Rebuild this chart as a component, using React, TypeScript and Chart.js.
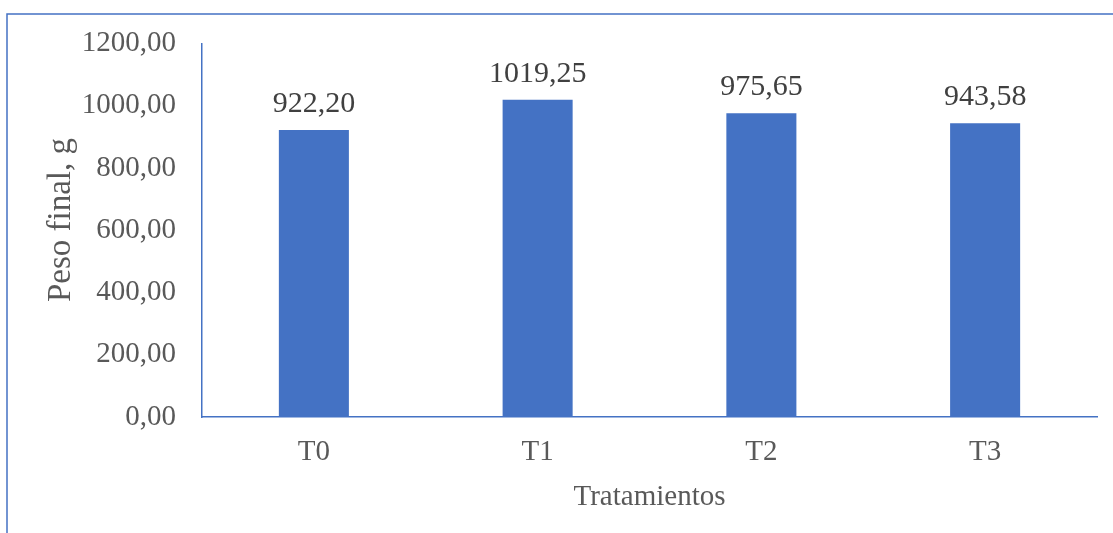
import React, { useEffect, useRef } from "react";
import { Chart, registerables } from "chart.js";

Chart.register(...registerables);

const categories = ["T0", "T1", "T2", "T3"];
const pesoFinal = [922.2, 1019.25, 975.65, 943.58];
const yTicks = [0, 200, 400, 600, 800, 1000, 1200];
const yTitle = "Peso final, g";
const xTitle = "Tratamientos";

const BLUE = "#4472C4";
const SERIF = "'Liberation Serif', 'Times New Roman', serif";

const fmt = (v: number) => v.toFixed(2).replace(".", ",");

// Outer chart frame (left and top edges), value labels above bars, and axis titles
const decorations = {
  id: "decorations",
  beforeDraw(chart: any) {
    const { ctx } = chart;
    ctx.save();
    ctx.strokeStyle = BLUE;
    ctx.lineWidth = 1.5;
    ctx.beginPath();
    ctx.moveTo(7, chart.height + 5);
    ctx.lineTo(7, 14);
    ctx.lineTo(chart.width + 5, 14);
    ctx.stroke();
    ctx.restore();
  },
  afterDatasetsDraw(chart: any) {
    const { ctx, chartArea } = chart;
    const meta = chart.getDatasetMeta(0);
    ctx.save();
    ctx.font = `30px ${SERIF}`;
    ctx.fillStyle = "#404040";
    ctx.textAlign = "center";
    ctx.textBaseline = "alphabetic";
    meta.data.forEach((bar: any, i: number) => {
      ctx.fillText(fmt(pesoFinal[i]), bar.x, bar.y - 18);
    });

    ctx.font = `29px ${SERIF}`;
    ctx.fillStyle = "#595959";
    ctx.fillText(xTitle, (chartArea.left + chartArea.right) / 2, 505);

    ctx.font = `33px ${SERIF}`;
    ctx.translate(70, 220);
    ctx.rotate(-Math.PI / 2);
    ctx.fillText(yTitle, 0, 0);
    ctx.restore();
  },
};

export default function App() {
  const canvasRef = useRef<HTMLCanvasElement | null>(null);

  useEffect(() => {
    if (!canvasRef.current) return;
    const chart = new Chart(canvasRef.current, {
      type: "bar",
      data: {
        labels: categories,
        datasets: [
          {
            data: pesoFinal,
            backgroundColor: BLUE,
            borderWidth: 0,
            barPercentage: 0.313,
            categoryPercentage: 1,
          },
        ],
      },
      options: {
        animation: false,
        responsive: false,
        devicePixelRatio: 1,
        layout: { padding: { left: 0, top: 43, right: 16, bottom: 0 } },
        plugins: {
          legend: { display: false },
          tooltip: { enabled: false },
        },
        scales: {
          x: {
            grid: { display: false, drawTicks: false },
            border: { display: true, color: BLUE, width: 1.5 },
            ticks: {
              font: { family: SERIF, size: 29 },
              color: "#595959",
              padding: 18,
            },
            afterFit(scale: any) {
              scale.height = 116;
            },
          },
          y: {
            min: 0,
            max: 1200,
            afterBuildTicks(scale: any) {
              scale.ticks = yTicks.map((v) => ({ value: v }));
            },
            grid: { display: false, drawTicks: false },
            border: { display: true, color: BLUE, width: 1.5 },
            ticks: {
              font: { family: SERIF, size: 29 },
              color: "#595959",
              padding: 26,
              callback: (v: any) => fmt(Number(v)),
            },
            afterFit(scale: any) {
              scale.width = 202;
            },
          },
        },
      },
      plugins: [decorations],
    });
    return () => chart.destroy();
  }, []);

  return (
    <div style={{ position: "fixed", left: 0, top: 0, width: 1113, height: 533, background: "#fff" }}>
      <canvas ref={canvasRef} width={1113} height={533} />
    </div>
  );
}
